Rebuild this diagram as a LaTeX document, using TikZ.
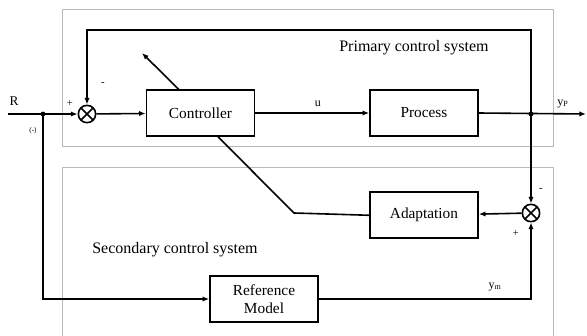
\documentclass[tikz,border=0pt]{standalone}
\usepackage{fontspec}
\setmainfont{Liberation Serif}
\usetikzlibrary{arrows.meta,shapes,positioning,calc}
\tikzset{
  basic/.style  = {draw, rectangle, line width=1.2pt},
  block/.style  = {basic, minimum width=81pt, minimum height=34.5pt, align=center,
                   font=\fontsize{11.5}{13.5}\selectfont},
  sum/.style    = {draw, circle, line width=1.2pt, minimum size=13pt, inner sep=0pt,
                   path picture={\draw[line width=1.1pt]
                     (path picture bounding box.north west) -- (path picture bounding box.south east)
                     (path picture bounding box.north east) -- (path picture bounding box.south west);}},
  sysbox/.style = {draw=gray!55, line width=0.6pt},
  sig/.style    = {line width=1.2pt},
  dot/.style    = {circle, fill, inner sep=0pt, minimum size=3.6pt},
  lbl/.style    = {inner sep=1pt, font=\fontsize{9}{10}\selectfont},
  sign/.style   = {inner sep=0pt, font=\fontsize{8}{9}\selectfont},
  syslbl/.style = {inner sep=1pt, font=\fontsize{12}{14}\selectfont}
}

\begin{document}
\begin{tikzpicture}[x=0.75pt, y=-0.75pt, >={Latex[length=5pt,width=4pt]}]
\useasboundingbox (0,0) rectangle (587,336);

% frames of the two systems
\draw[sysbox] (62,9) rectangle (553,146);
\draw[sysbox] (62,336) -- (62,167) -- (553,167) -- (553,336);
\node[syslbl] (plab) at (414,48) {Primary control system};
\node[syslbl] (slab) at (175,250) {Secondary control system};

% primary loop
\node[sum] (sum1) at (87,114) {};
\node[block] (ctrl) at (200.5,113) {Controller};
\node[block] (proc) at (424,113) {Process};
\node[dot] (jin) at (43,114) {};
\node[dot] (jout) at (531,114) {};

% secondary loop, relatively positioned
\node[block, below=41pt of proc] (adapt) {Adaptation};
\node[sum] (sum2) at (531,213) {};
\node[block] (ref) at (264,299) {Reference\\Model};

% free ends
\coordinate (in) at (8,114);
\coordinate (out) at (586,114);
\coordinate (top) at (300,30);
\coordinate (bend) at (294,213);
\coordinate (tune) at (142,53);

% connectors
\draw[sig,->] (in) -- (sum1.west);
\draw[sig,->] (sum1) -- (ctrl);
\draw[sig,->] (ctrl) -- (proc) node[lbl, pos=0.55, above=3pt] (ulab) {u};
\draw[sig,->] (proc.east) -- (out);
\draw[sig,->] (jout.center) |- (top) -| (sum1.north);
\draw[sig,->] (jout.center) -- (sum2.north);
\draw[sig,->] (sum2) -- (adapt);
\draw[sig] (adapt.west) -- (bend) -- ($(ctrl.south west)!0.66!(ctrl.south east)$);
\draw[sig,->] ($(ctrl.north west)!0.3!(ctrl.north east)$) -- (tune);
\draw[sig,->] (jin.center) |- (ref.west);
\draw[sig,->] (ref.east) -| (sum2.south);

% labels
\node[lbl, font=\fontsize{10}{11}\selectfont] (rlab) at (14,101) {R};
\node[lbl, font=\fontsize{5.5}{6}\selectfont] (neg) at (33,131) {(-)};
\node[sign] (p1) at (70,103) {+};
\node[sign] (m1) at (103,84) {-};
\node[sign] (m2) at (541,190) {-};
\node[sign] (p2) at (516,233) {+};
\node[lbl] (yplab) at (563,104) {y\textsubscript{P}};
\node[lbl] (ymlab) at (495,287) {y\textsubscript{m}};
\end{tikzpicture}
\end{document}
